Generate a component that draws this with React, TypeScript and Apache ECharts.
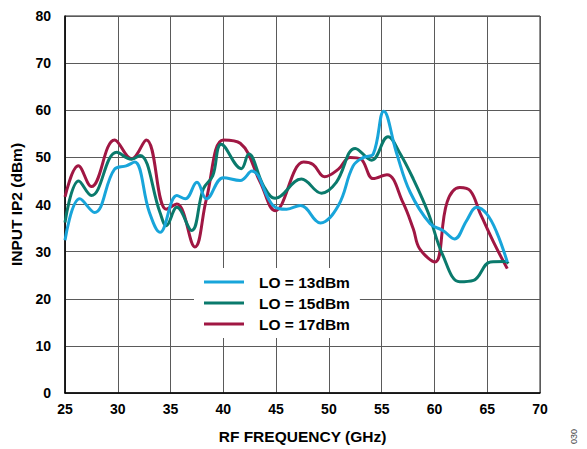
import React, { useEffect, useRef } from "react";
import * as echarts from "echarts";

const seriesNames = ["LO = 13dBm", "LO = 15dBm", "LO = 17dBm"];
const seriesColors = ["#18a5da", "#0a7a6c", "#a01743"];

const blueX = [25, 26.4, 27.8, 29.7, 30.8, 31.6, 33, 34, 35.6, 36.4, 37.5, 38.4, 40, 41.6, 42.7, 44.7, 46, 47.3, 49.2, 50.9, 52.3, 53.3, 54.2, 55.2, 56.4, 57.7, 59.6, 60.8, 61.9, 63.05, 64, 64.95, 65.9, 66.9];
const blueY = [32.4, 41.2, 38.3, 47.5, 48.2, 49, 38.3, 34.1, 41.9, 41.2, 44.7, 41.2, 45.7, 45.1, 47.1, 39.8, 39, 39.8, 36.1, 39.8, 48.2, 50, 50.7, 59.8, 51, 42.6, 35.9, 34.5, 32.7, 36.6, 39.4, 38, 34.1, 27.8];

const tealX = [25, 26.3, 27.5, 29.9, 31.3, 32.1, 34, 34.6, 35.6, 37, 38.1, 39, 39.8, 41.7, 42.4, 43.8, 44.9, 47.4, 49.3, 50.7, 52.5, 54.05, 55.6, 56.7, 58, 59.4, 60.8, 62.4, 63.7, 65.3, 66.7, 67];
const tealY = [36.2, 45, 41.9, 51.1, 49.6, 50.4, 38.3, 35.5, 39.4, 34.5, 43.3, 46.1, 52.8, 47.6, 50.7, 44, 41.3, 45.4, 42.4, 44.7, 51.9, 49.4, 54.4, 51, 45.4, 38.3, 29.2, 23.6, 23.9, 27.8, 27.9, 27.5];

const redX = [25, 26.26, 27.5, 29.7, 31.3, 32.7, 34.6, 35.6, 37.3, 38.4, 40, 41.6, 43.5, 44.9, 47.6, 48.5, 49.6, 50.9, 52, 53, 54.2, 55.5, 57, 58, 58.6, 60.05, 61.2, 62.4, 63.4, 64.3, 65.6, 66.9];
const redY = [41.6, 48.2, 43.8, 53.7, 49.7, 53.7, 39, 40.1, 31, 41.2, 53.7, 53, 44.7, 38.7, 49, 48.5, 45.9, 47.5, 50, 49.7, 45.5, 46.3, 40.5, 34.8, 30.6, 27.8, 40.5, 43.6, 42.9, 38.3, 32, 26.4];

const xTicks = { min: 25, max: 70, step: 5 };
const yTicks = { min: 0, max: 80, step: 10 };

const zip = (xs: number[], ys: number[]) => xs.map((x, i) => [x, ys[i]]);

export default function App() {
  const ref = useRef<HTMLDivElement>(null);
  useEffect(() => {
    if (!ref.current) return;
    const chart = echarts.init(ref.current, undefined, { renderer: "svg" });
    const font = "'Liberation Sans', Arial, sans-serif";
    const datasets = [zip(blueX, blueY), zip(tealX, tealY), zip(redX, redY)];
    chart.setOption({
      animation: false,
      backgroundColor: "#ffffff",
      grid: { left: 65, right: 47, top: 16, bottom: 54, show: true, borderColor: "#222", borderWidth: 1 },
      legend: {
        orient: "vertical",
        left: 194,
        top: 268,
        data: seriesNames,
        backgroundColor: "#ffffff",
        padding: [6, 10, 6, 10],
        itemWidth: 40,
        itemHeight: 3,
        itemGap: 5,
        icon: "rect",
        textStyle: { fontFamily: font, fontWeight: "bold", fontSize: 15.5, color: "#000", padding: [0, 0, 0, 10], lineHeight: 15.5 },
      },
      xAxis: {
        type: "value",
        min: xTicks.min,
        max: xTicks.max,
        interval: xTicks.step,
        name: "RF FREQUENCY (GHz)",
        nameLocation: "middle",
        nameGap: 35,
        nameTextStyle: { fontFamily: font, fontWeight: "bold", fontSize: 15.5, color: "#000" },
        axisLine: { show: true, lineStyle: { color: "#000", width: 1.5 } },
        axisTick: { show: false },
        axisLabel: { fontFamily: font, fontWeight: "bold", fontSize: 14, color: "#000", margin: 9 },
        splitLine: { show: true, lineStyle: { color: "#5a5a5a", width: 1 } },
      },
      yAxis: {
        type: "value",
        min: yTicks.min,
        max: yTicks.max,
        interval: yTicks.step,
        name: "INPUT IP2 (dBm)",
        nameLocation: "middle",
        nameGap: 33,
        nameRotate: 90,
        nameTextStyle: { fontFamily: font, fontWeight: "bold", fontSize: 15.5, color: "#000" },
        axisLine: { show: true, lineStyle: { color: "#000", width: 1.5 } },
        axisTick: { show: false },
        axisLabel: { fontFamily: font, fontWeight: "bold", fontSize: 14, color: "#000", margin: 14 },
        splitLine: { show: true, lineStyle: { color: "#5a5a5a", width: 1 } },
      },
      series: seriesNames.map((name, i) => ({
        name,
        type: "line",
        data: datasets[i],
        smooth: 0.4,
        showSymbol: false,
        symbol: "none",
        color: seriesColors[i],
        lineStyle: { color: seriesColors[i], width: 3 },
        z: 3 - i,
      })),
      graphic: [
        {
          type: "text",
          x: 569,
          y: 444,
          rotation: Math.PI / 2,
          style: { text: "030", fontFamily: font, fontSize: 9, fill: "#444" },
        },
      ],
    });
    return () => chart.dispose();
  }, []);
  return <div ref={ref} style={{ width: 587, height: 449, position: "absolute", left: 0, top: 0 }} />;
}
